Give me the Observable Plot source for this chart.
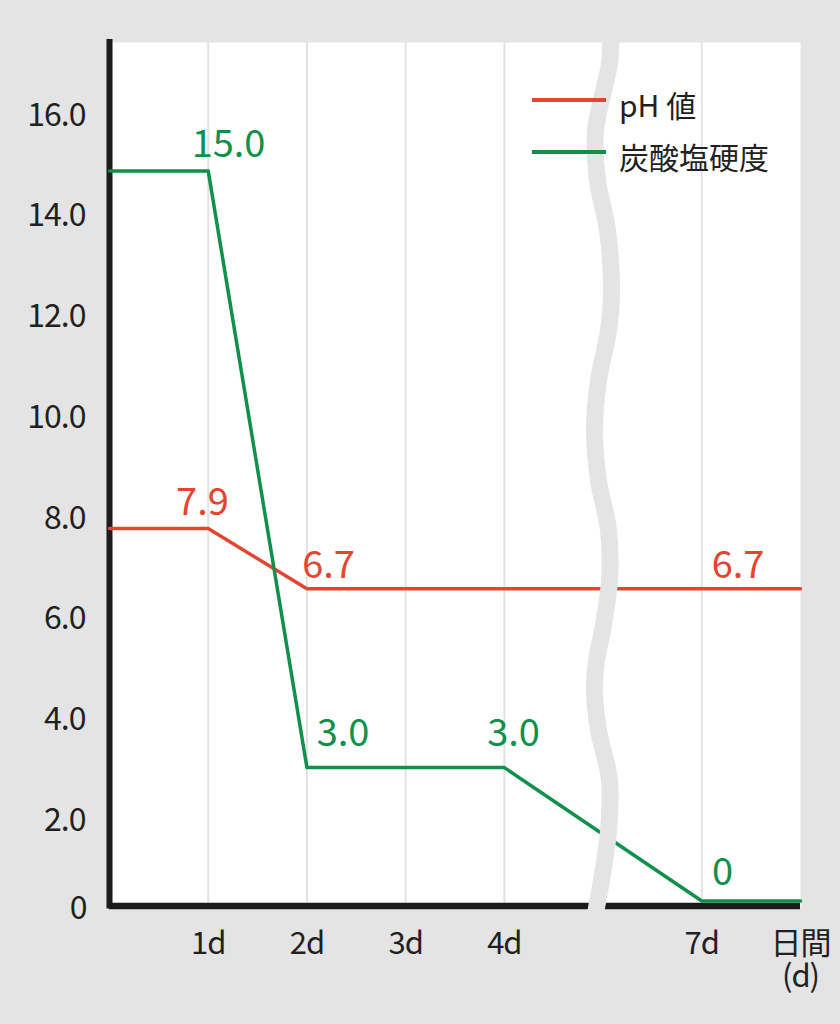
<!DOCTYPE html>
<html>
<head>
<meta charset="utf-8">
<script src="https://cdn.jsdelivr.net/npm/d3@7"></script>
<script src="https://cdn.jsdelivr.net/npm/@observablehq/plot@0.6"></script>
<style>
  html, body { margin: 0; padding: 0; background: #e4e4e4; }
  #wrap { position: relative; width: 840px; height: 1024px; font-family: "Noto Sans CJK JP", sans-serif; color: #231f20; }
  .legend-row { position: absolute; left: 532px; display: flex; align-items: center; height: 40px; }
  .swatch { width: 74px; height: 4px; margin-right: 13px; }
  .legend-text { font-size: 30px; line-height: 40px; position: relative; top: 4px; }
</style>
</head>
<body>
<div id="wrap"></div>
<script>
// ---- data ----
const seriesNames = ["pH 値", "炭酸塩硬度"];
const seriesColors = ["#e34530", "#10904a"];

// x positions (day slots, slot 5 is the axis break)
const phX = [0, 1, 2, 7];
const phY = [7.8, 7.8, 6.6, 6.6];
const khX = [0, 1, 2, 4, 6, 7];
const khY = [14.9, 14.9, 3.05, 3.05, 0.4, 0.4];

const xTickPos = [1, 2, 3, 4, 6, 7];
const xTickLabels = ["1d", "2d", "3d", "4d", "7d", "日間\n(d)"];
const gridX = [1, 2, 3, 4, 6];
const yTicks = [2, 4, 6, 8, 10, 12, 14, 16];
const yZeroLabel = "0";

// value labels
const labelText = ["15.0", "7.9", "6.7", "6.7", "3.0", "3.0", "0"];
const labelSeries = ["炭酸塩硬度", "pH 値", "pH 値", "pH 値", "炭酸塩硬度", "炭酸塩硬度", "炭酸塩硬度"];
const labelX = [1.206, 0.942, 2.219, 6.367, 2.366, 4.093, 6.21];
const labelY = [15.42, 8.31, 7.06, 7.06, 3.72, 3.72, 0.96];

// axis break wave (decoration)
const breakWaveX = [5.076, 5.065, 4.924, 4.944, 5.045, 5.086, 5.055, 4.954, 4.913, 4.954, 5.055, 5.065, 4.994, 4.934, 4.913, 4.954, 5.065, 5.055, 4.984, 4.934, 4.913];
const breakWaveY = [17.49, 17.03, 15.70, 14.71, 13.72, 12.52, 11.73, 10.74, 9.74, 8.75, 7.76, 6.77, 5.77, 5.18, 4.58, 3.79, 2.80, 1.80, 0.81, 0.27, 0.01];

// ---- build ----
const yBase = 0.3;   // where the drawn x-axis sits
const yTop = 17.45;
const bg = "#e4e4e4";
const ink = "#231f20";

const lineRows = [
  ...phX.map((x, i) => ({x, y: phY[i], s: seriesNames[0]})),
  ...khX.map((x, i) => ({x, y: khY[i], s: seriesNames[1]}))
];
const labelRows = labelText.map((t, i) => ({t, x: labelX[i], y: labelY[i], s: labelSeries[i]}));
const waveRows = breakWaveX.map((x, i) => ({x, y: breakWaveY[i]}));

const chart = Plot.plot({
  width: 840,
  height: 1024,
  marginLeft: 109,
  marginRight: 40,
  marginTop: 42,
  marginBottom: 118.4,
  style: {background: bg, fontFamily: "'Noto Sans CJK JP', sans-serif", color: ink},
  x: {domain: [0, 7], label: null},
  y: {domain: [yBase, yTop], label: null},
  color: {domain: seriesNames, range: seriesColors},
  marks: [
    Plot.frame({fill: "white", stroke: null}),
    Plot.ruleX(gridX, {stroke: "#e2e2e2", strokeWidth: 2}),
    Plot.axisY({ticks: yTicks, tickFormat: d => d.toFixed(1), tickSize: 0, tickPadding: 24, fontSize: 32, fill: ink, label: null}),
    Plot.text([yZeroLabel], {x: 0, y: yBase, text: d => d, textAnchor: "end", dx: -22, dy: 3, fontSize: 32, fill: ink}),
    Plot.axisX({ticks: xTickPos, tickFormat: d => xTickLabels[xTickPos.indexOf(d)], tickSize: 0, tickPadding: 24, fontSize: 31, lineHeight: 1.08, fill: ink, label: null}),
    Plot.ruleY([yBase], {stroke: "#1c1a1a", strokeWidth: 6.5}),
    Plot.ruleX([0], {stroke: "#1c1a1a", strokeWidth: 6, strokeLinecap: "square"}),
    Plot.line(lineRows, {x: "x", y: "y", z: "s", stroke: "s", strokeWidth: 3.5}),
    Plot.line(waveRows, {x: "x", y: "y", curve: "catmull-rom", stroke: bg, strokeWidth: 17}),
    Plot.text(labelRows, {x: "x", y: "y", text: "t", fill: "s", fontSize: 38})
  ]
});

// slightly tighter tick labels, as in the original typesetting
chart.querySelectorAll('g[aria-label="y-axis tick label"] text, g[aria-label="x-axis tick label"] text')
  .forEach(t => { t.style.letterSpacing = "-1px"; });

const wrap = document.getElementById("wrap");
wrap.appendChild(chart);

// legend (inside the chart area, top right)
const legendTops = [80, 132];
seriesNames.forEach((name, i) => {
  const row = document.createElement("div");
  row.className = "legend-row";
  row.style.top = legendTops[i] + "px";
  const sw = document.createElement("div");
  sw.className = "swatch";
  sw.style.background = seriesColors[i];
  const tx = document.createElement("span");
  tx.className = "legend-text";
  tx.textContent = name;
  row.appendChild(sw);
  row.appendChild(tx);
  wrap.appendChild(row);
});
</script>
</body>
</html>
